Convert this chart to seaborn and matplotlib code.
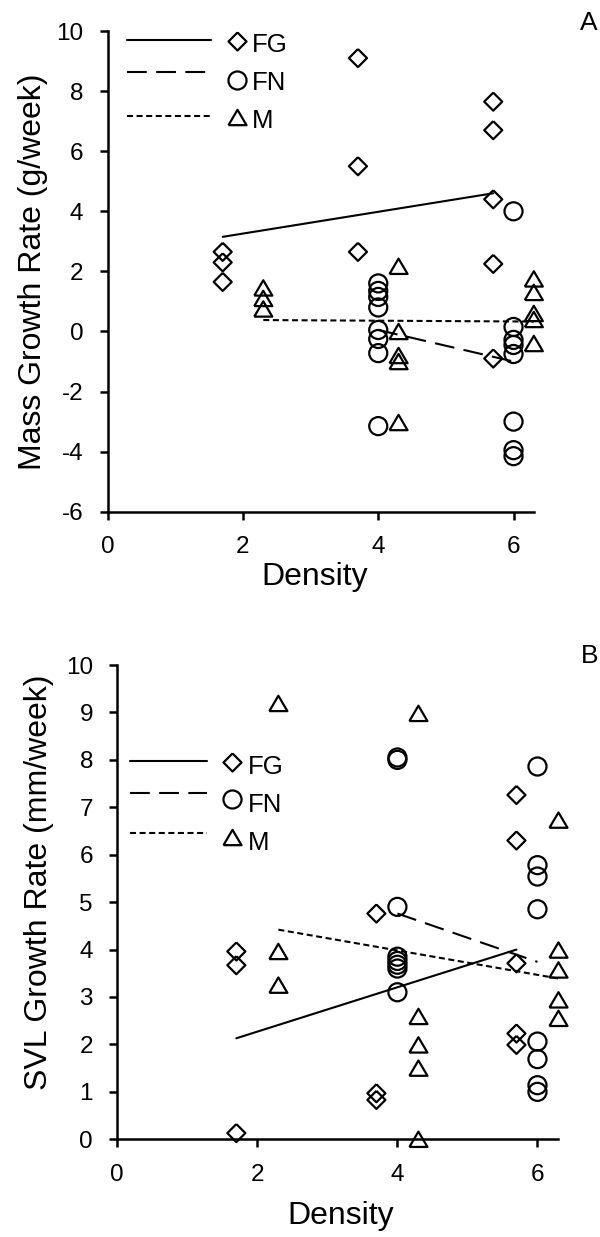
import matplotlib
matplotlib.use("Agg")
import matplotlib.pyplot as plt
import seaborn as sns
import numpy as np
import pandas as pd
from matplotlib.lines import Line2D
from matplotlib.legend_handler import HandlerBase

sns.set_style("ticks", {"axes.edgecolor": "black", "xtick.color": "black",
                        "ytick.color": "black", "text.color": "black",
                        "axes.labelcolor": "black"})
plt.rcParams["font.family"] = ["Liberation Sans", "DejaVu Sans"]
plt.rcParams["axes.unicode_minus"] = False

groups = ["FG", "FN", "M"]

# ---- Panel A: mass growth rate (g/week) vs density ----
mass_fg_density = [1.7, 1.7, 1.7, 3.7, 3.7, 3.7, 5.7, 5.7, 5.7, 5.7, 5.7]
mass_fg_rate = [2.65, 2.3, 1.65, 9.1, 5.5, 2.65, 7.65, 6.7, 4.4, 2.25, -0.9]
mass_fn_density = [4, 4, 4, 4, 4, 4, 4, 4, 6, 6, 6, 6, 6, 6, 6, 6]
mass_fn_rate = [1.6, 1.35, 1.15, 0.8, 0.05, -0.25, -0.72, -3.15,
                4.0, 0.15, -0.28, -0.45, -0.75, -3.0, -3.95, -4.15]
mass_m_density = [2.3, 2.3, 2.3, 4.3, 4.3, 4.3, 4.3, 4.3, 6.3, 6.3, 6.3, 6.3, 6.3]
mass_m_rate = [1.45, 1.1, 0.75, 2.17, 0.0, -0.8, -1.0, -3.03, 1.75, 1.3, 0.6, 0.4, -0.4]
# fitted trend lines (intercept, slope) per group
mass_trend_intercept = [2.534, 2.15, 0.409]
mass_trend_slope = [0.3625, -0.525, -0.0125]

# ---- Panel B: SVL growth rate (mm/week) vs density ----
svl_fg_density = [1.7, 1.7, 1.7, 3.7, 3.7, 3.7, 5.7, 5.7, 5.7, 5.7, 5.7]
svl_fg_rate = [3.96, 3.67, 0.13, 4.76, 0.97, 0.83, 7.26, 6.30, 3.71, 2.23, 1.99]
svl_fn_density = [4, 4, 4, 4, 4, 4, 4, 4, 6, 6, 6, 6, 6, 6, 6, 6]
svl_fn_rate = [8.05, 8.0, 4.9, 3.85, 3.76, 3.68, 3.6, 3.1,
               7.86, 5.78, 5.54, 4.85, 2.06, 1.69, 1.14, 1.0]
svl_m_density = [2.3, 2.3, 2.3, 4.3, 4.3, 4.3, 4.3, 4.3, 6.3, 6.3, 6.3, 6.3, 6.3]
svl_m_rate = [9.19, 3.96, 3.25, 8.98, 2.59, 1.99, 1.50, 0.0, 6.73, 3.99, 3.57, 2.94, 2.55]
svl_trend_intercept = [1.335, 6.80, 5.012]
svl_trend_slope = [0.4675, -0.51, -0.2575]


def long_frame(dens, rates):
    parts = [pd.DataFrame({"density": d, "rate": r, "group": g})
             for g, d, r in zip(groups, dens, rates)]
    return pd.concat(parts, ignore_index=True)


mass_df = long_frame([mass_fg_density, mass_fn_density, mass_m_density],
                     [mass_fg_rate, mass_fn_rate, mass_m_rate])
svl_df = long_frame([svl_fg_density, svl_fn_density, svl_m_density],
                    [svl_fg_rate, svl_fn_rate, svl_m_rate])

DIAMOND = [(0, 1), (1, 0), (0, -1), (-1, 0), (0, 1)]
TRIANGLE = [(-1, -0.85), (1, -0.85), (0, 0.85), (-1, -0.85)]
MARKERS = {"FG": DIAMOND, "FN": "o", "M": TRIANGLE}
LINESTYLES = {"FG": "-", "FN": (0, (9.5, 4.5)), "M": (0, (2.9, 1.7))}
MS = 13
EDGE = 1.6
LW = 1.5
TICK_FS = 17.5
LABEL_FS = 23
KEY_FS = 18.5


class TrendKey(HandlerBase):
    """Legend key: a line segment followed by the group's marker."""

    def __init__(self, line_frac, line_raise, marker_raise):
        super().__init__()
        self.line_frac = line_frac
        self.line_raise = line_raise
        self.marker_raise = marker_raise

    def create_artists(self, legend, orig_handle, xdescent, ydescent,
                       width, height, fontsize, trans):
        x0 = -xdescent
        yc = height / 2.0 - ydescent
        seg = Line2D([x0, x0 + self.line_frac * width], [yc + self.line_raise] * 2)
        self.update_prop(seg, orig_handle, legend)
        seg.set_marker("None")
        seg.set_transform(trans)
        half = orig_handle.get_markersize() / 2.0
        dot = Line2D([x0 + width - half], [yc + self.marker_raise])
        self.update_prop(dot, orig_handle, legend)
        dot.set_linestyle("None")
        dot.set_transform(trans)
        return [seg, dot]


def draw_panel(ax, df, intercepts, slopes):
    for g, b0, b1 in zip(groups, intercepts, slopes):
        sub = df[df["group"] == g]
        xs = np.array([sub["density"].min(), sub["density"].max()])
        sns.lineplot(x=xs, y=b0 + b1 * xs, color="black", linewidth=LW,
                     linestyle=LINESTYLES[g], errorbar=None, ax=ax, legend=False)
        sns.scatterplot(data=sub, x="density", y="rate", marker=MARKERS[g],
                        s=MS ** 2, color="black", facecolor="none",
                        edgecolor="black", linewidth=EDGE, ax=ax,
                        clip_on=False, zorder=3, legend=False)


def style_axes(ax, yticks):
    sns.despine(ax=ax)
    for side in ("left", "bottom"):
        ax.spines[side].set_linewidth(1.8)
        ax.spines[side].set_color("black")
    ax.set_xlim(0, 6.3)
    ax.set_xticks([0, 2, 4, 6])
    ax.set_ylim(yticks[0], yticks[-1])
    ax.set_yticks(yticks)
    ax.tick_params(direction="out", length=5.5, width=1.8, labelsize=TICK_FS,
                   pad=12, color="black", labelcolor="black")


def add_key(ax, anchor, handlelength, line_frac, line_raises, marker_raises, textpad):
    handles = [Line2D([], [], color="black", linewidth=LW, linestyle=LINESTYLES[g],
                      marker=MARKERS[g], markersize=MS, markerfacecolor="none",
                      markeredgecolor="black", markeredgewidth=EDGE)
               for g in groups]
    hmap = {h: TrendKey(line_frac, lr, mr)
            for h, lr, mr in zip(handles, line_raises, marker_raises)}
    ax.legend(handles, groups, handler_map=hmap, loc="upper left",
              bbox_to_anchor=anchor, frameon=False, fontsize=KEY_FS,
              handlelength=handlelength, handleheight=0.7,
              handletextpad=textpad, labelspacing=0.55,
              borderpad=0, borderaxespad=0)


fig = plt.figure(figsize=(6, 12.37), dpi=100)

axA = fig.add_axes([0.1795, 0.5863, 0.7102, 0.3886])
draw_panel(axA, mass_df, mass_trend_intercept, mass_trend_slope)
style_axes(axA, list(range(-6, 11, 2)))
axA.set_xlabel("Density", fontsize=LABEL_FS, va="center")
axA.set_ylabel("Mass Growth Rate (g/week)", fontsize=LABEL_FS, va="center")
axA.xaxis.set_label_coords(0.4865, -0.1358)
axA.yaxis.set_label_coords(-0.176, 0.5)
add_key(axA, (0.0453, 0.996), 4.65, 0.70, [1.8, 6.5, 2.5], [1.4, 0.7, 1.4], 0.2)

axB = fig.add_axes([0.1955, 0.0790, 0.7353, 0.3834])
draw_panel(axB, svl_df, svl_trend_intercept, svl_trend_slope)
style_axes(axB, list(range(0, 11)))
axB.set_xlabel("Density", fontsize=LABEL_FS, va="center")
axB.set_ylabel("SVL Growth Rate (mm/week)", fontsize=LABEL_FS, va="center")
axB.xaxis.set_label_coords(0.507, -0.1617)
axB.yaxis.set_label_coords(-0.1786, 0.5425)
add_key(axB, (0.0288, 0.811), 4.33, 0.69, [2.9, 7.2, 5.8], [2.2, 2.9, 2.9], 0.24)

fig.text(589 / 600, 1 - 23.5 / 1237, "A", ha="center", va="center", fontsize=19)
fig.text(590 / 600, 1 - 656 / 1237, "B", ha="center", va="center", fontsize=19)

fig.savefig("out.png", dpi=100)
